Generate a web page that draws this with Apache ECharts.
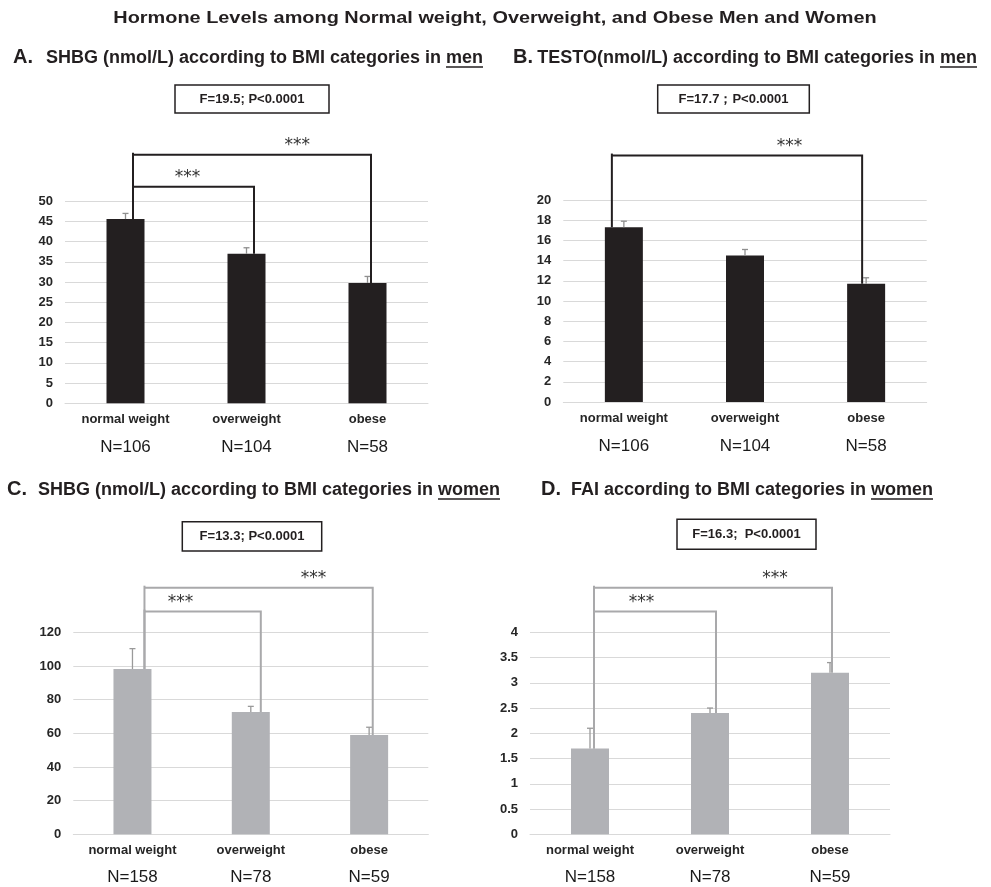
<!DOCTYPE html>
<html>
<head>
<meta charset="utf-8">
<script src="https://cdn.jsdelivr.net/npm/echarts@6/dist/echarts.min.js"></script>
<style>
  html, body { margin: 0; padding: 0; background: #fff; }
  #chart { width: 991px; height: 887px; }
</style>
</head>
<body>
<div id="chart"></div>
<script>
// ---- data ----
const categories = ['normal weight', 'overweight', 'obese'];

// A. SHBG (nmol/L), men
const shbgMen = [45.6, 37.0, 29.8];
const shbgMenUpper = [47.0, 38.5, 31.4];
// B. Testosterone (nmol/L), men
const testoMen = [17.3, 14.5, 11.7];
const testoMenUpper = [17.9, 15.1, 12.3];
const menN = [106, 104, 58];

// C. SHBG (nmol/L), women
const shbgWomen = [98.2, 72.7, 59.0];
const shbgWomenUpper = [110.3, 76.0, 63.6];
// D. Free androgen index, women
const faiWomen = [1.7, 2.4, 3.2];
const faiWomenUpper = [2.1, 2.5, 3.4];
const womenN = [158, 78, 59];

// y axis [min, max, interval]
const yRangeA = [0, 50, 5];
const yRangeB = [0, 20, 2];
const yRangeC = [0, 120, 20];
const yRangeD = [0, 4, 0.5];

// significance brackets: [from category, to category, bracket level in axis units]
const bracketsA = [[0, 2, 61.5], [0, 1, 53.6]];
const bracketsB = [[0, 2, 24.4]];
const bracketsC = [[0, 2, 146.5], [0, 1, 132.3]];
const bracketsD = [[0, 2, 4.88], [0, 1, 4.41]];

const statsA = 'F=19.5; P<0.0001';
const statsB = 'F=17.7；P<0.0001';
const statsC = 'F=13.3; P<0.0001';
const statsD = 'F=16.3;  P<0.0001';

const mainTitle = 'Hormone Levels among Normal weight, Overweight, and Obese Men and Women';

// ---- layout ----
const FONT = '"Liberation Sans", Arial, Helvetica, sans-serif';
const STAR_FONT = '"DejaVu Sans", sans-serif';
const DARK = '#231f20';
const GREY_BAR = '#b1b2b6';
const HEAD_SIZE = 18;

const panels = [
  {
    letter: 'A.', title: 'SHBG (nmol/L) according to BMI categories in ', word: 'men',
    values: shbgMen, upper: shbgMenUpper, n: menN, y: yRangeA, brackets: bracketsA, stats: statsA,
    grid: { left: 65, top: 201.3, width: 363, height: 202 },
    barColor: DARK, errColor: '#8f8f8f', bracketColor: DARK,
    lineOffsets: [7.5, 7.5, 3.5], starFrac: [0.69, 0.45],
    titleX: 13, titleEnd: 483, titleY: 57, box: [175, 85, 154, 28], nLine: 38
  },
  {
    letter: 'B.', title: 'TESTO(nmol/L) according to BMI categories in ', word: 'men',
    values: testoMen, upper: testoMenUpper, n: menN, y: yRangeB, brackets: bracketsB, stats: statsB,
    grid: { left: 563.3, top: 200, width: 363.4, height: 202 },
    barColor: DARK, errColor: '#8f8f8f', bracketColor: DARK,
    lineOffsets: [-12, 0, -4], starFrac: [0.71],
    titleX: 513, titleEnd: 977, titleY: 57, box: [657.7, 85, 151.6, 28], nLine: 38
  },
  {
    letter: 'C.', title: 'SHBG (nmol/L) according to BMI categories in ', word: 'women',
    values: shbgWomen, upper: shbgWomenUpper, n: womenN, y: yRangeC, brackets: bracketsC, stats: statsC,
    grid: { left: 73.3, top: 632.3, width: 355, height: 202 },
    barColor: GREY_BAR, errColor: '#9a9a9a', bracketColor: '#a9a9ab',
    lineOffsets: [12, 10, 3.6], starFrac: [0.74, 0.31],
    titleX: 7, titleEnd: 500, titleY: 489, box: [182.3, 521.7, 139.4, 29.3], nLine: 36
  },
  {
    letter: 'D.', title: 'FAI according to BMI categories in ', word: 'women',
    values: faiWomen, upper: faiWomenUpper, n: womenN, y: yRangeD, brackets: bracketsD, stats: statsD,
    grid: { left: 530, top: 632.3, width: 360, height: 202 },
    barColor: GREY_BAR, errColor: '#9a9a9a', bracketColor: '#a9a9ab',
    lineOffsets: [4, 6, 2], starFrac: [0.76, 0.39],
    titleX: 541, titleEnd: 933, titleY: 489, box: [677, 519.3, 139, 30], nLine: 36
  }
];

const measureCtx = document.createElement('canvas').getContext('2d');
function textWidth(str, size, weight) {
  measureCtx.font = weight + ' ' + size + 'px ' + FONT;
  return measureCtx.measureText(str).width;
}

const grid = [], xAxis = [], yAxis = [], series = [], graphic = [];

// figure heading, slightly widened
graphic.push({
  type: 'text', x: 495, y: 18, z: 10, scaleX: 1.17,
  style: { text: mainTitle, x: 0, y: 0, align: 'center', verticalAlign: 'middle',
    fontFamily: FONT, fontSize: 17, fontWeight: 'bold', fill: '#231f20' }
});

panels.forEach((p, i) => {
  grid.push(Object.assign({ containLabel: false }, p.grid));

  xAxis.push({
    type: 'category', gridIndex: i, data: categories,
    axisLine: { lineStyle: { color: '#d9d9d9', width: 1 } },
    axisTick: { show: false },
    axisLabel: {
      margin: 7, interval: 0,
      formatter: (val, idx) => '{c|' + val + '}\n{n|N=' + p.n[idx] + '}',
      rich: {
        c: { fontFamily: FONT, fontSize: 13, fontWeight: 'bold', color: '#262626', lineHeight: 18 },
        n: { fontFamily: FONT, fontSize: 17, color: '#1a1a1a', lineHeight: p.nLine }
      }
    }
  });

  yAxis.push({
    type: 'value', gridIndex: i, min: p.y[0], max: p.y[1], interval: p.y[2],
    axisLine: { show: false }, axisTick: { show: false },
    splitLine: { lineStyle: { color: '#d9d9d9', width: 1 } },
    axisLabel: { margin: 12, fontFamily: FONT, fontSize: 13, fontWeight: 'bold', color: '#262626' }
  });

  series.push({
    type: 'bar', xAxisIndex: i, yAxisIndex: i, data: p.values, barWidth: 38,
    itemStyle: { color: p.barColor }, z: 2, silent: true
  });

  // upper error bars
  series.push({
    type: 'custom', xAxisIndex: i, yAxisIndex: i, z: 3, silent: true,
    data: p.values.map((v, k) => [k, v, p.upper[k]]),
    encode: { x: 0, y: 1 },
    renderItem: (params, api) => {
      const base = api.coord([api.value(0), api.value(1)]);
      const top = api.coord([api.value(0), api.value(2)]);
      const st = { stroke: p.errColor, lineWidth: 1.3 };
      return {
        type: 'group', children: [
          { type: 'line', shape: { x1: base[0], y1: base[1], x2: top[0], y2: top[1] }, style: st },
          { type: 'line', shape: { x1: top[0] - 3, y1: top[1], x2: top[0] + 3, y2: top[1] }, style: st }
        ]
      };
    }
  });

  // significance brackets with stars
  series.push({
    type: 'custom', xAxisIndex: i, yAxisIndex: i, z: 4, silent: true, clip: false,
    data: p.brackets.map((b, k) => [b[0], b[1], b[2], p.starFrac[k]]),
    encode: { x: 0, y: 2 },
    renderItem: (params, api) => {
      const f = api.value(0), t = api.value(1), lvl = api.value(2), frac = api.value(3);
      const pf = api.coord([f, p.values[f]]);
      const pt = api.coord([t, p.values[t]]);
      const yl = api.coord([f, lvl])[1];
      const xf = pf[0] + p.lineOffsets[f];
      const xt = pt[0] + p.lineOffsets[t];
      const st = { stroke: p.bracketColor, lineWidth: 2, fill: null };
      return {
        type: 'group', children: [
          { type: 'line', shape: { x1: xf, y1: pf[1], x2: xf, y2: yl - 2 }, style: st },
          { type: 'polyline', shape: { points: [[xf, yl], [xt, yl], [xt, pt[1]]] }, style: st },
          { type: 'text', style: { text: '***', x: xf + (xt - xf) * frac, y: yl - 9,
              align: 'center', verticalAlign: 'middle', fontFamily: STAR_FONT, fontSize: 17, fill: '#333333' } }
        ]
      };
    }
  });

  // panel heading: letter, text, underlined word
  const wordW = textWidth(p.word, HEAD_SIZE, 'bold');
  graphic.push({
    type: 'text', x: p.titleX, y: p.titleY, z: 10,
    style: { text: p.letter, align: 'left', verticalAlign: 'middle', fontFamily: FONT,
      fontSize: 20, fontWeight: 'bold', fill: '#231f20' }
  });
  graphic.push({
    type: 'text', x: p.titleEnd - wordW, y: p.titleY + 1, z: 10,
    style: { text: p.title, align: 'right', verticalAlign: 'middle', fontFamily: FONT,
      fontSize: HEAD_SIZE, fontWeight: 'bold', fill: '#231f20' }
  });
  graphic.push({
    type: 'text', x: p.titleEnd, y: p.titleY + 1, z: 10,
    style: { text: p.word, align: 'right', verticalAlign: 'middle', fontFamily: FONT,
      fontSize: HEAD_SIZE, fontWeight: 'bold', fill: '#231f20' }
  });
  graphic.push({
    type: 'line', z: 10,
    shape: { x1: p.titleEnd - wordW, y1: p.titleY + 10, x2: p.titleEnd, y2: p.titleY + 10 },
    style: { stroke: '#231f20', lineWidth: 1.3 }
  });

  // statistics box
  graphic.push({
    type: 'rect', z: 10,
    shape: { x: p.box[0], y: p.box[1], width: p.box[2], height: p.box[3] },
    style: { fill: '#fff', stroke: '#231f20', lineWidth: 1.5 }
  });
  graphic.push({
    type: 'text', z: 11, x: p.box[0] + p.box[2] / 2, y: p.box[1] + p.box[3] / 2,
    style: { text: p.stats, align: 'center', verticalAlign: 'middle', fontFamily: FONT,
      fontSize: 13, fontWeight: 'bold', fill: '#231f20' }
  });
});

const chart = echarts.init(document.getElementById('chart'), null, { renderer: 'canvas' });
chart.setOption({
  animation: false,
  backgroundColor: '#ffffff',
  grid, xAxis, yAxis, series, graphic
});
</script>
</body>
</html>
